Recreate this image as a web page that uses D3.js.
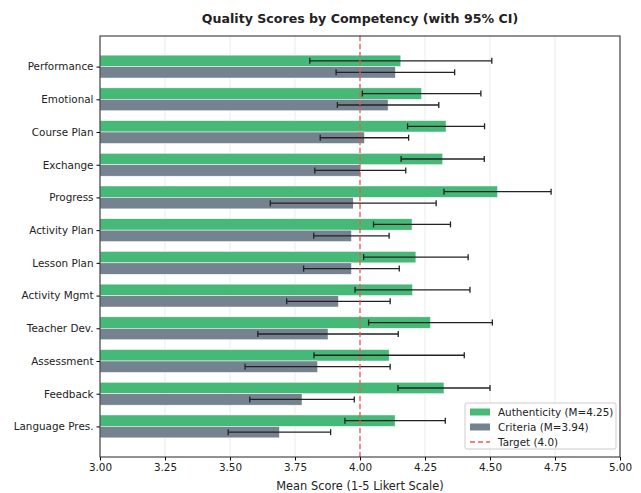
<!DOCTYPE html>
<html>
<head>
<meta charset="utf-8">
<script src="https://cdn.jsdelivr.net/npm/d3@7"></script>
<style>
  body { margin: 0; background: #fff; }
  text { font-family: "DejaVu Sans", sans-serif; fill: #222; }
</style>
</head>
<body>
<svg id="chart"></svg>
<script>
const categories = ['Performance', 'Emotional', 'Course Plan', 'Exchange', 'Progress', 'Activity Plan',
    'Lesson Plan', 'Activity Mgmt', 'Teacher Dev.', 'Assessment', 'Feedback', 'Language Pres.'];
const authenticity = [4.157, 4.237, 4.331, 4.318, 4.529, 4.200, 4.215, 4.202, 4.271, 4.112, 4.323, 4.135];
const authenticityCI = [0.350, 0.228, 0.148, 0.160, 0.206, 0.148, 0.201, 0.221, 0.238, 0.289, 0.177, 0.193];
const criteria = [4.136, 4.108, 4.017, 4.001, 3.974, 3.967, 3.967, 3.917, 3.877, 3.837, 3.777, 3.690];
const criteriaCI = [0.228, 0.195, 0.170, 0.175, 0.319, 0.145, 0.184, 0.199, 0.270, 0.279, 0.201, 0.197];
const xTicks = [3.00, 3.25, 3.50, 3.75, 4.00, 4.25, 4.50, 4.75, 5.00];
const target = 4.0;
const legendLabels = ['Authenticity (M=4.25)', 'Criteria (M=3.94)', 'Target (4.0)'];

const width = 641, height = 493;
const margin = { top: 36, right: 21, bottom: 36, left: 100 };
const innerW = width - margin.left - margin.right;
const innerH = height - margin.top - margin.bottom;

const green = '#46b978';
const slate = '#75828f';

const svg = d3.select('#chart')
    .attr('width', width)
    .attr('height', height);

const g = svg.append('g')
    .attr('transform', `translate(${margin.left}, ${margin.top})`);

const xScale = d3.scaleLinear().domain([3, 5]).range([0, innerW]);
const yScale = d3.scalePoint().domain(categories).range([0, innerH]).padding(0.935);
const barH = yScale.step() * 0.35;

// grid
g.append('g')
    .selectAll('line')
    .data(xTicks)
    .enter()
    .append('line')
    .attr('x1', xScale).attr('x2', xScale)
    .attr('y1', 0).attr('y2', innerH)
    .attr('stroke', '#e6e6e6')
    .attr('stroke-width', 0.8);

const rows = categories.map((c, i) => ({
    cat: c, a: authenticity[i], aCI: authenticityCI[i], c: criteria[i], cCI: criteriaCI[i]
}));

// bars
g.append('g').selectAll('rect')
    .data(rows).enter().append('rect')
    .attr('x', xScale(3))
    .attr('y', (d) => yScale(d.cat) - barH)
    .attr('width', (d) => xScale(d.a) - xScale(3))
    .attr('height', barH)
    .attr('fill', green)
    .attr('stroke', '#fff').attr('stroke-width', 0.5);

g.append('g').selectAll('rect')
    .data(rows).enter().append('rect')
    .attr('x', xScale(3))
    .attr('y', (d) => yScale(d.cat))
    .attr('width', (d) => xScale(d.c) - xScale(3))
    .attr('height', barH)
    .attr('fill', slate)
    .attr('stroke', '#fff').attr('stroke-width', 0.5);

// error bars
function errorBars(getMean, getCI, offset) {
    const eg = g.append('g').selectAll('g')
        .data(rows).enter().append('g')
        .attr('stroke', '#222')
        .attr('stroke-width', 1.3);
    const cy = (d) => yScale(d.cat) + offset;
    eg.append('line')
        .attr('x1', (d) => xScale(getMean(d) - getCI(d)))
        .attr('x2', (d) => xScale(getMean(d) + getCI(d)))
        .attr('y1', cy).attr('y2', cy);
    eg.append('line')
        .attr('x1', (d) => xScale(getMean(d) - getCI(d)))
        .attr('x2', (d) => xScale(getMean(d) - getCI(d)))
        .attr('y1', (d) => cy(d) - 3).attr('y2', (d) => cy(d) + 3);
    eg.append('line')
        .attr('x1', (d) => xScale(getMean(d) + getCI(d)))
        .attr('x2', (d) => xScale(getMean(d) + getCI(d)))
        .attr('y1', (d) => cy(d) - 3).attr('y2', (d) => cy(d) + 3);
}
errorBars((d) => d.a, (d) => d.aCI, -barH / 2);
errorBars((d) => d.c, (d) => d.cCI, barH / 2);

// target line
g.append('line')
    .attr('x1', xScale(target)).attr('x2', xScale(target))
    .attr('y1', 0).attr('y2', innerH)
    .attr('stroke', '#ee5a4f')
    .attr('stroke-width', 1.3)
    .attr('stroke-dasharray', '5,3');

// axes
const xAxis = d3.axisBottom(xScale).tickValues(xTicks).tickFormat(d3.format('.2f')).tickSize(3.5).tickPadding(3);
const yAxis = d3.axisLeft(yScale).tickSize(3.5).tickPadding(3);

g.append('g')
    .attr('transform', `translate(0, ${innerH})`)
    .call(xAxis)
    .call((a) => a.select('.domain').remove())
    .selectAll('text').style('font-size', '10.4px').attr('fill', '#222');

g.append('g')
    .call(yAxis)
    .call((a) => a.select('.domain').remove())
    .selectAll('text').style('font-size', '10.4px').attr('fill', '#222');

g.append('rect')
    .attr('width', innerW).attr('height', innerH)
    .attr('fill', 'none').attr('stroke', '#222').attr('stroke-width', 1);

// labels
svg.append('text')
    .attr('x', margin.left + innerW / 2)
    .attr('y', 23)
    .attr('text-anchor', 'middle')
    .style('font-size', '12.6px')
    .style('font-weight', 'bold')
    .text('Quality Scores by Competency (with 95% CI)');

svg.append('text')
    .attr('x', margin.left + innerW / 2)
    .attr('y', 490)
    .attr('text-anchor', 'middle')
    .style('font-size', '11.4px')
    .text('Mean Score (1-5 Likert Scale)');

// legend
const legend = svg.append('g').attr('transform', 'translate(465, 403)');
legend.append('rect')
    .attr('width', 151).attr('height', 46).attr('rx', 2)
    .attr('fill', '#fff').attr('fill-opacity', 0.85)
    .attr('stroke', '#ccc');
const legendItems = legend.selectAll('g.item')
    .data(legendLabels).enter().append('g')
    .attr('class', 'item')
    .attr('transform', (d, i) => `translate(5, ${9 + i * 15})`);
legendItems.filter((d, i) => i < 2).append('rect')
    .attr('x', 0).attr('y', -3.5).attr('width', 20).attr('height', 7)
    .attr('fill', (d, i) => i === 0 ? green : slate);
legendItems.filter((d, i) => i === 2).append('line')
    .attr('x1', 0).attr('x2', 20).attr('y1', 0).attr('y2', 0)
    .attr('stroke', '#ee5a4f').attr('stroke-width', 1.3).attr('stroke-dasharray', '5,3');
legendItems.append('text')
    .attr('x', 28).attr('y', 3.6)
    .style('font-size', '10.4px')
    .text((d) => d);
</script>
</body>
</html>
